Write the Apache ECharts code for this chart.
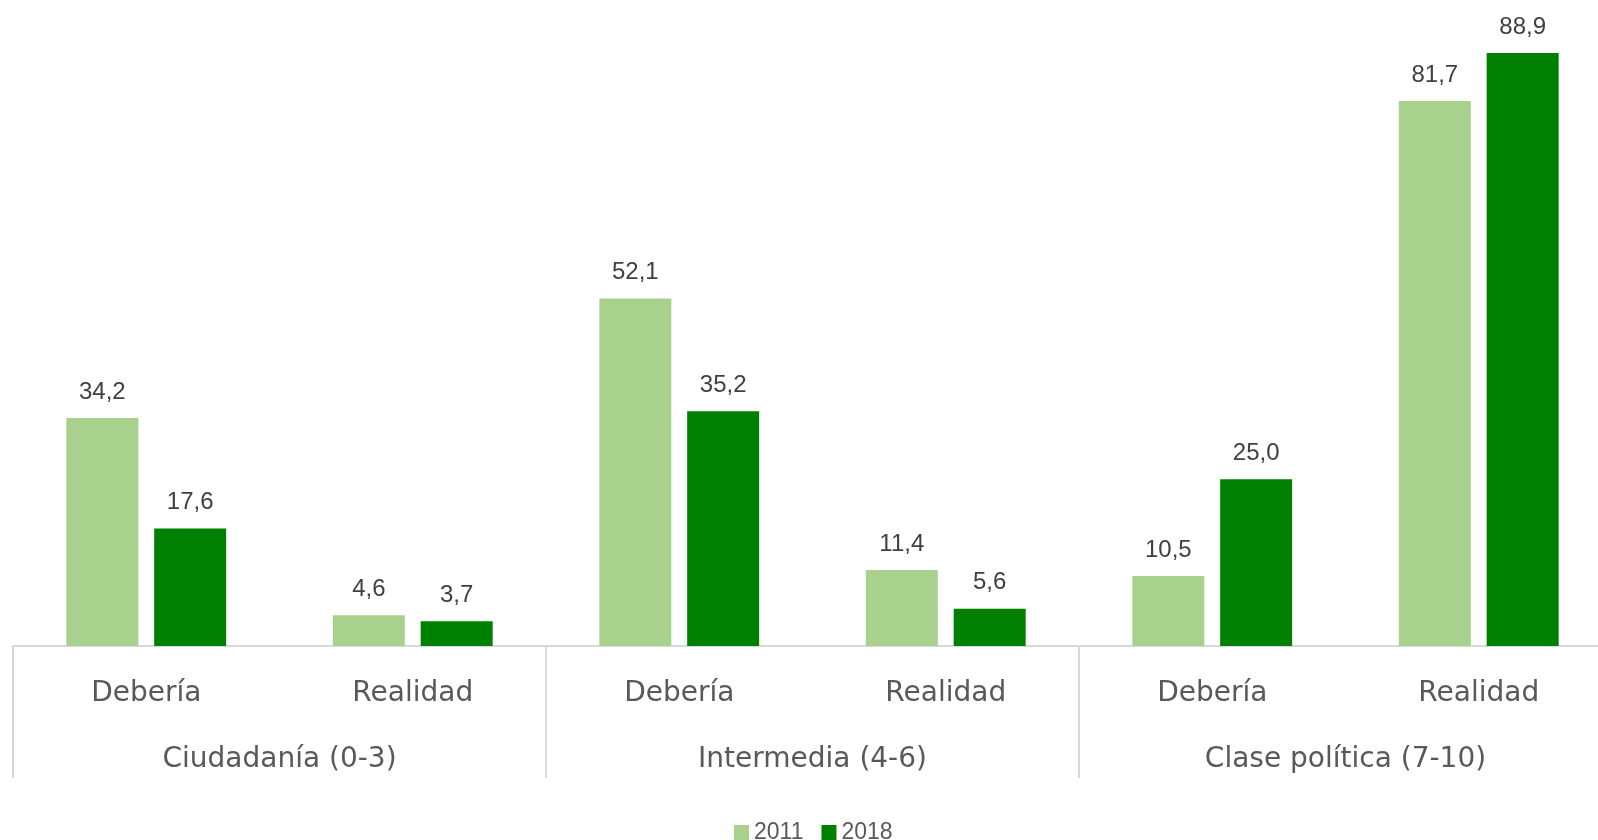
<!DOCTYPE html>
<html><head><meta charset="utf-8">
<script src="https://cdn.jsdelivr.net/npm/echarts@6/dist/echarts.min.js"></script>
<style>html,body{margin:0;padding:0;background:#fff;overflow:hidden}#c{width:1630px;height:840px}</style>
</head><body><div id="c"></div>
<script>
const subCategories = ['Debería','Realidad','Debería','Realidad','Debería','Realidad'];
const groups = ['Ciudadanía (0-3)','Intermedia (4-6)','Clase política (7-10)'];
const seriesNames = ['2011','2018'];
const values2011 = [34.2, 4.6, 52.1, 11.4, 10.5, 81.7];
const values2018 = [17.6, 3.7, 35.2, 5.6, 25.0, 88.9];

const AXFONT = '"DejaVu Sans", sans-serif';
const NUMFONT = '"Liberation Sans", Arial, sans-serif';
const fmt = p => p.value.toFixed(1).replace('.', ',');
const chart = echarts.init(document.getElementById('c'), null, {renderer:'canvas'});
chart.setOption({
  animation:false,
  color:['#a9d18e','#008000'],
  legend:{
    data:seriesNames, left:729, top:816, itemWidth:15, itemHeight:15, itemGap:18,
    icon:'rect',
    textStyle:{fontFamily:NUMFONT, fontSize:23, color:'#595959'}
  },
  grid:{left:13, top:0, width:1599, height:646, containLabel:false},
  xAxis:[
    {type:'category', data:subCategories, position:'bottom',
     axisLine:{show:true, lineStyle:{color:'#d9d9d9', width:2}},
     axisTick:{show:false},
     axisLabel:{margin:34, fontSize:28, color:'#595959', fontFamily:AXFONT}},
    {type:'category', data:groups, position:'bottom',
     axisLine:{show:false},
     axisTick:{show:true, length:132, lineStyle:{color:'#d9d9d9', width:2}},
     axisLabel:{margin:100, fontSize:28, color:'#595959', fontFamily:AXFONT}}
  ],
  yAxis:{type:'value', min:0, max:96.85, show:false, splitLine:{show:false}},
  series:[
    {name:seriesNames[0], type:'bar', data:values2011, xAxisIndex:0, barWidth:72, barGap:'22%',
     label:{show:true, position:'top', distance:14, formatter:fmt, fontSize:24, color:'#404040', fontFamily:NUMFONT}},
    {name:seriesNames[1], type:'bar', data:values2018, xAxisIndex:0, barWidth:72, barGap:'22%',
     label:{show:true, position:'top', distance:14, formatter:fmt, fontSize:24, color:'#404040', fontFamily:NUMFONT}}
  ]
});
</script></body></html>
